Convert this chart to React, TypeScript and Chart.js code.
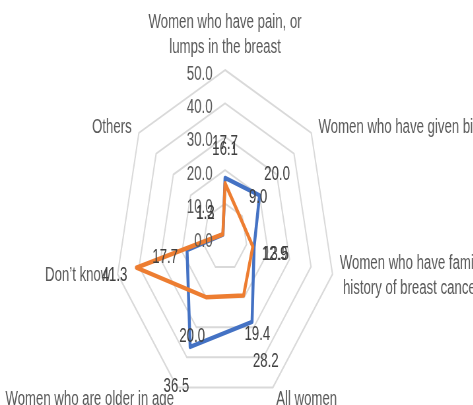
import React, { useEffect, useRef } from "react";
import { Chart, registerables } from "chart.js";

Chart.register(...registerables);

const categories: string[][] = [
  ["Women who have pain, or", "lumps in the breast"],
  ["Women who have given birth"],
  ["Women who have family", "history of breast cancer"],
  ["All women"],
  ["Women who are older in age"],
  ["Don\u2019t know"],
  ["Others"],
];

const seriesBlue = [17.7, 20.0, 13.5, 28.2, 36.5, 17.7, 1.2];
const seriesOrange = [16.1, 9.0, 12.9, 19.4, 20.0, 41.3, 1.3];
const seriesNames = ["Series 1", "Series 2"];

const axisMin = 0;
const axisMax = 50;
const axisStep = 10;

const OUT_W = 473;
const OUT_H = 405;
const SX = 0.66;
const W = Math.round(OUT_W / SX);
const FONT = '20px "Liberation Sans", Arial, sans-serif';
const LINE_H = 25;

const labelPlugin = {
  id: "excelLabels",
  afterDatasetsDraw(chart: any) {
    const scale = chart.scales.r;
    const ctx = chart.ctx as CanvasRenderingContext2D;
    const cx = scale.xCenter;
    const cy = scale.yCenter;
    ctx.save();
    ctx.font = FONT;

    // tick labels (left of the vertical axis)
    ctx.fillStyle = "#595959";
    ctx.textAlign = "right";
    ctx.textBaseline = "middle";
    scale.ticks.forEach((t: any) => {
      const d = scale.getDistanceFromCenterForValue(t.value);
      ctx.fillText(Number(t.value).toFixed(1), cx - 19, cy - d + 4);
    });

    // category labels
    categories.forEach((lines, i) => {
      const p = scale.getPointPosition(i, scale.drawingArea);
      const u = scale.getPointPosition(i, 1);
      const dx = u.x - cx;
      const dy = u.y - cy;
      const widths = lines.map((l) => ctx.measureText(l).width);
      const maxW = Math.max(...widths);
      ctx.textAlign = "center";
      ctx.textBaseline = "middle";
      if (dy < -0.95) {
        lines.forEach((l, k) => {
          ctx.fillText(l, p.x, p.y - 23 - (lines.length - 1 - k) * LINE_H);
        });
        return;
      }
      let centerX: number;
      let topY: number;
      if (dy > 0.8) {
        centerX = dx > 0 ? p.x + 5 + maxW / 2 : p.x - 5 - maxW / 2;
        topY = p.y + 12;
      } else {
        centerX = dx > 0 ? p.x + 11 + maxW / 2 : p.x - 11 - maxW / 2;
        const mid = p.y + dy * 8;
        topY = mid - ((lines.length - 1) * LINE_H) / 2;
      }
      lines.forEach((l, k) => {
        ctx.fillText(l, centerX, topY + k * LINE_H);
      });
    });

    // data labels
    ctx.fillStyle = "#404040";
    ctx.textAlign = "center";
    ctx.textBaseline = "middle";
    chart.data.datasets.forEach((ds: any) => {
      ds.data.forEach((v: number, i: number) => {
        const d = scale.getDistanceFromCenterForValue(v);
        const u = scale.getPointPosition(i, 1);
        const dy = u.y - cy;
        const bottom = dy > 0.8;
        const p = scale.getPointPosition(i, d + 34 + (bottom ? 4 : 0));
        ctx.fillText(v.toFixed(1), p.x + (bottom ? (u.x - cx) * 10 : 0), p.y + (bottom ? 5 : 0));
      });
    });
    ctx.restore();
  },
};

export default function App() {
  const ref = useRef<HTMLCanvasElement | null>(null);
  useEffect(() => {
    if (!ref.current) return;
    const chart = new Chart(ref.current, {
      type: "radar",
      data: {
        labels: categories.map((c) => c.join(" ")),
        datasets: [
          {
            label: seriesNames[0],
            data: seriesBlue,
            borderColor: "#4472C4",
            backgroundColor: "rgba(0,0,0,0)",
            fill: false,
            borderWidth: 4.5,
            borderJoinStyle: "round",
            pointRadius: 0,
            order: 2,
          },
          {
            label: seriesNames[1],
            data: seriesOrange,
            borderColor: "#ED7D31",
            backgroundColor: "rgba(0,0,0,0)",
            fill: false,
            borderWidth: 4.5,
            borderJoinStyle: "round",
            pointRadius: 0,
            order: 1,
          },
        ],
      },
      options: {
        animation: false,
        responsive: false,
        devicePixelRatio: 1,
        layout: { padding: { left: 174, right: W - 174 - 334, top: 70, bottom: OUT_H - 70 - 334 } },
        scales: {
          r: {
            min: axisMin,
            max: axisMax,
            ticks: { stepSize: axisStep, display: false },
            grid: { color: "#d9d9d9", lineWidth: 2 },
            angleLines: { display: false },
            pointLabels: { display: false },
          },
        },
        plugins: {
          legend: { display: false },
          tooltip: { enabled: false },
        },
      },
      plugins: [labelPlugin],
    });
    return () => chart.destroy();
  }, []);

  return (
    <div
      style={{
        position: "absolute",
        left: 0,
        top: 0,
        width: OUT_W,
        height: OUT_H,
        overflow: "hidden",
        background: "#ffffff",
      }}
    >
      <div
        style={{
          width: W,
          height: OUT_H,
          transform: `scaleX(${SX})`,
          transformOrigin: "0 0",
        }}
      >
        <canvas ref={ref} width={W} height={OUT_H} style={{ width: W, height: OUT_H }} />
      </div>
    </div>
  );
}
